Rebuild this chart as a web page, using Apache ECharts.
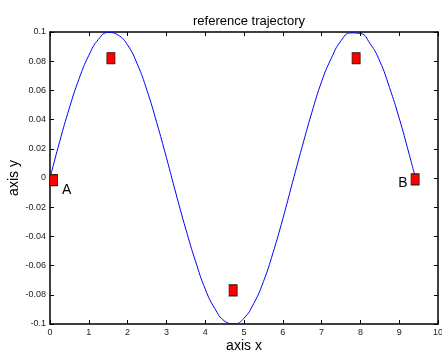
<!DOCTYPE html>
<html>
<head>
<meta charset="utf-8">
<script src="https://cdn.jsdelivr.net/npm/echarts@6/dist/echarts.min.js"></script>
<style>
  html, body { margin: 0; padding: 0; background: #fff; }
  #chart { width: 442px; height: 350px; }
</style>
</head>
<body>
<div id="chart"></div>
<script>
// reference trajectory
const curveX = [0, 0.25, 0.5, 0.75, 1.0, 1.25, 1.5, 1.75, 2.0, 2.25, 2.5, 2.75, 3.0, 3.25, 3.5, 3.75,
  4.0, 4.25, 4.5, 4.75, 5.0, 5.25, 5.5, 5.75, 6.0, 6.25, 6.5, 6.75, 7.0, 7.25, 7.5, 7.75,
  8.0, 8.25, 8.5, 8.75, 9.0, 9.25, 9.42]
const curveY = [0, 0.025, 0.048, 0.068, 0.084, 0.095, 0.0997, 0.098, 0.091, 0.078, 0.060, 0.038,
  0.014, -0.011, -0.035, -0.057, -0.076, -0.0895, -0.098, -0.0999, -0.096, -0.086, -0.071, -0.051,
  -0.028, -0.003, 0.0215, 0.045, 0.066, 0.082, 0.094, 0.0994, 0.099, 0.092, 0.080, 0.062,
  0.041, 0.017, 0]

// red square markers
const markerX = [0.09, 1.57, 4.72, 7.89, 9.41]
const markerY = [-0.0015, 0.082, -0.077, 0.082, -0.001]
const markerNames = ['A', '', '', '', 'B']

const xTicks = [0, 1, 2, 3, 4, 5, 6, 7, 8, 9, 10]
const yTicks = [-0.1, -0.08, -0.06, -0.04, -0.02, 0, 0.02, 0.04, 0.06, 0.08, 0.1]

const font = 'Liberation Sans, Arial, sans-serif'

let curveData = []
for (let i = 0; i < curveX.length; ++i) {
  curveData.push([curveX[i], curveY[i]])
}
let markerData = []
for (let i = 0; i < markerX.length; ++i) {
  let item = { value: [markerX[i], markerY[i]], name: markerNames[i] }
  if (markerNames[i] === 'A') {
    item.label = { show: true, position: 'right', offset: [-1, 10] }
  } else if (markerNames[i] === 'B') {
    item.label = { show: true, position: 'left', offset: [2, 4] }
  }
  markerData.push(item)
}

const axisCommon = {
  type: 'value',
  axisLine: { show: true, onZero: false, lineStyle: { color: '#000', width: 1.5 } },
  axisTick: { show: true, inside: true, length: 4, lineStyle: { color: '#000' } },
  splitLine: { show: false }
}

const chart = echarts.init(document.getElementById('chart'))
chart.setOption({
  animation: false,
  backgroundColor: '#fff',
  title: {
    text: 'reference trajectory',
    left: 244,
    top: 10,
    textAlign: 'center',
    textStyle: { fontFamily: font, fontSize: 13, fontWeight: 'normal', color: '#000' }
  },
  grid: { left: 50, right: 4, top: 32, bottom: 26, containLabel: false, outerBoundsMode: 'none' },
  xAxis: [
    Object.assign({}, axisCommon, {
      min: xTicks[0], max: xTicks[xTicks.length - 1], interval: 1,
      position: 'bottom',
      name: 'axis x', nameLocation: 'middle', nameGap: 15, nameMoveOverlap: false,
      nameTextStyle: { fontFamily: font, fontSize: 14, color: '#000' },
      axisLabel: { fontFamily: font, fontSize: 9, color: '#222', margin: 4 }
    }),
    Object.assign({}, axisCommon, {
      min: xTicks[0], max: xTicks[xTicks.length - 1], interval: 1,
      position: 'top', axisLabel: { show: false }
    })
  ],
  yAxis: [
    Object.assign({}, axisCommon, {
      min: yTicks[0], max: yTicks[yTicks.length - 1], interval: 0.02,
      position: 'left',
      name: 'axis y', nameLocation: 'middle', nameGap: 29, nameMoveOverlap: false,
      nameTextStyle: { fontFamily: font, fontSize: 14, color: '#000' },
      axisLabel: {
        fontFamily: font, fontSize: 9, color: '#222', margin: 4,
        formatter: function (v) { return String(+v.toFixed(2)) }
      }
    }),
    Object.assign({}, axisCommon, {
      min: yTicks[0], max: yTicks[yTicks.length - 1], interval: 0.02,
      position: 'right', axisLabel: { show: false }
    })
  ],
  series: [{
    type: 'line',
    data: curveData,
    smooth: true,
    symbol: 'none',
    lineStyle: { color: '#0000ff', width: 1 }
  }, {
    type: 'scatter',
    data: markerData,
    symbol: 'rect',
    symbolSize: [8, 11],
    itemStyle: { color: '#ff0000', borderColor: '#3a1a10', borderWidth: 1, opacity: 1 },
    label: {
      show: false,
      formatter: function (p) { return p.name },
      fontFamily: font, fontSize: 14, color: '#000'
    },
    z: 3
  }]
})
</script>
</body>
</html>
